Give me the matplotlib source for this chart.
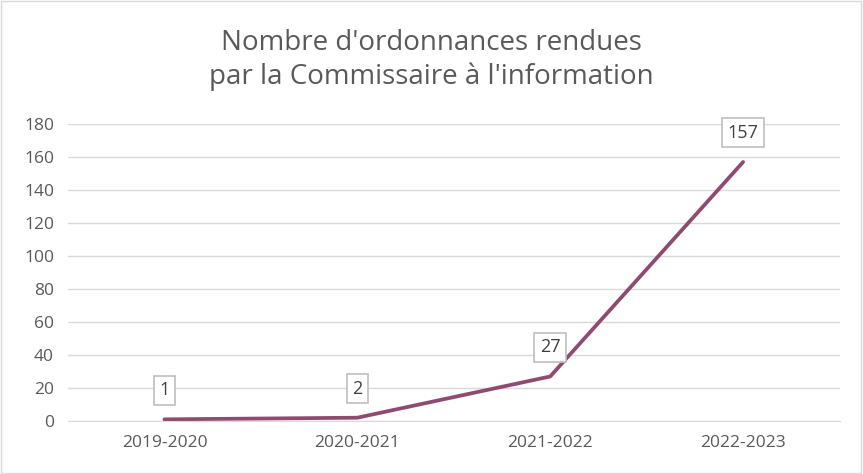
import matplotlib.pyplot as plt
from matplotlib.patches import Rectangle

years = ["2019-2020", "2020-2021", "2021-2022", "2022-2023"]
orders = [1, 2, 27, 157]
yticks = [0, 20, 40, 60, 80, 100, 120, 140, 160, 180]

line_color = "#8F4A6F"
text_color = "#595959"
grid_color = "#D9D9D9"

plt.rcParams["font.family"] = ["Open Sans", "DejaVu Sans"]

fig = plt.figure(figsize=(8.63, 4.74), dpi=100)
ax = fig.add_axes([0.0788, 0.1118, 0.894, 0.6265])

x = range(len(years))
ax.plot(x, orders, color=line_color, linewidth=2.7, solid_capstyle="round")

for xi, v in zip(x, orders):
    ax.annotate(str(v), (xi, v), xytext=(0, 21), textcoords="offset points",
                ha="center", va="center", fontsize=13, color="#404040",
                bbox=dict(boxstyle="square,pad=0.3", fc="white", ec="#BFBFBF", lw=1.2))

ax.set_xlim(-0.5, len(years) - 0.5)
ax.set_ylim(0, 180)
ax.set_yticks(yticks)
ax.set_xticks(list(x))
ax.set_xticklabels(years)
ax.tick_params(axis="both", length=0, labelsize=12.5, colors=text_color)
ax.tick_params(axis="x", pad=10)
ax.tick_params(axis="y", pad=10)
ax.grid(axis="y", color=grid_color, linewidth=1)
ax.set_axisbelow(True)
for s in ["top", "right", "left"]:
    ax.spines[s].set_visible(False)
ax.spines["bottom"].set_color(grid_color)

fig.text(0.5, 0.873, "Nombre d'ordonnances rendues\npar la Commissaire à l'information",
         ha="center", va="center", fontsize=20, color=text_color, linespacing=1.25)

fig.patches.append(Rectangle((0.001, 0.002), 0.997, 0.995, transform=fig.transFigure,
                             fill=False, ec="#D9D9D9", lw=1))

fig.savefig("out.png", dpi=100)
